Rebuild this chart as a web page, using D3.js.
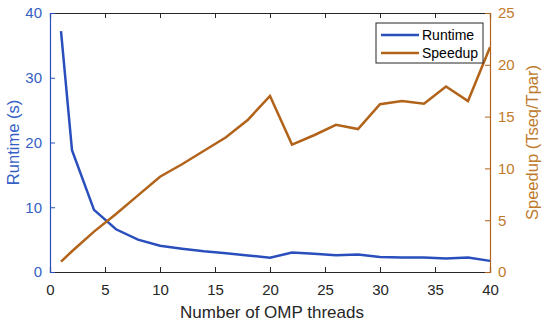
<!DOCTYPE html>
<html lang="en">
	<head>
		<meta charset="utf-8">
		<title>Runtime and speedup</title>
		<script type="text/javascript" src="https://cdn.jsdelivr.net/npm/d3@7"></script>
		<style type="text/css">
			body { margin: 0; background: #fff; }
			text { font-family: "Liberation Sans", Arial, sans-serif; }
		</style>
	</head>
	<body>
		<script type="text/javascript">

			var w = 550;
			var h = 328;
			var margin = { top: 13, right: 60, bottom: 56, left: 50 };

			// data
			var threads = [1, 2, 4, 6, 8, 10, 12, 14, 16, 18, 20, 22, 24, 26, 28, 30, 32, 34, 36, 38, 40];
			var runtime = [37.2, 18.8, 9.6, 6.6, 5.0, 4.05, 3.6, 3.2, 2.9, 2.55, 2.2, 3.0, 2.8, 2.6, 2.7, 2.3, 2.25, 2.25, 2.08, 2.25, 1.72];
			var speedup = [1.0, 2.0, 3.9, 5.6, 7.4, 9.2, 10.4, 11.7, 13.0, 14.7, 17.0, 12.3, 13.2, 14.2, 13.8, 16.2, 16.5, 16.25, 17.9, 16.5, 21.7];
			var xTicks = [0, 5, 10, 15, 20, 25, 30, 35, 40];
			var yLeftTicks = [0, 10, 20, 30, 40];
			var yRightTicks = [0, 5, 10, 15, 20, 25];

			var blue = "#2a4fbd";
			var blueText = "#3560c4";
			var orange = "#b2631a";
			var orangeText = "#bf7a2c";

			var svg = d3.select("body")
						.append("svg")
						.attr("width", w)
						.attr("height", h);

			var x = d3.scaleLinear().domain([0, 40]).range([margin.left, w - margin.right]);
			var yL = d3.scaleLinear().domain([0, 40]).range([h - margin.bottom, margin.top]);
			var yR = d3.scaleLinear().domain([0, 25]).range([h - margin.bottom, margin.top]);

			var tickLen = 5;

			// top axis (ticks only)
			svg.append("g")
				.attr("transform", "translate(0," + margin.top + ")")
				.call(d3.axisTop(x).tickValues(xTicks).tickSize(-tickLen).tickFormat(""))
				.call(function(g) {
					g.select(".domain").attr("stroke", "#262626").attr("stroke-width", 1.2);
					g.selectAll(".tick line").attr("stroke", "#262626");
				});

			// bottom axis
			svg.append("g")
				.attr("transform", "translate(0," + (h - margin.bottom) + ")")
				.call(d3.axisBottom(x).tickValues(xTicks).tickSize(-tickLen).tickPadding(12))
				.call(function(g) {
					g.select(".domain").attr("stroke", "#262626").attr("stroke-width", 1.2);
					g.selectAll(".tick line").attr("stroke", "#262626");
					g.selectAll("text").attr("fill", "#262626").style("font-size", "15px")
						.style("font-family", "'Liberation Sans', Arial, sans-serif");
				});

			// left axis
			svg.append("g")
				.attr("transform", "translate(" + margin.left + ",0)")
				.call(d3.axisLeft(yL).tickValues(yLeftTicks).tickSize(-tickLen).tickPadding(8))
				.call(function(g) {
					g.select(".domain").attr("stroke", blue).attr("stroke-width", 1.2);
					g.selectAll(".tick line").attr("stroke", blue);
					g.selectAll("text").attr("fill", blueText).style("font-size", "15px")
						.style("font-family", "'Liberation Sans', Arial, sans-serif");
				});

			// right axis
			svg.append("g")
				.attr("transform", "translate(" + (w - margin.right) + ",0)")
				.call(d3.axisRight(yR).tickValues(yRightTicks).tickSize(-tickLen).tickPadding(8))
				.call(function(g) {
					g.select(".domain").attr("stroke", orange).attr("stroke-width", 1.2);
					g.selectAll(".tick line").attr("stroke", orange);
					g.selectAll("text").attr("fill", orangeText).style("font-size", "15px")
						.style("font-family", "'Liberation Sans', Arial, sans-serif");
				});

			// lines
			var runtimeLine = d3.line()
				.x(function(d, i) { return x(threads[i]); })
				.y(function(d) { return yL(d); });

			var speedupLine = d3.line()
				.x(function(d, i) { return x(threads[i]); })
				.y(function(d) { return yR(d); });

			svg.append("path")
				.datum(runtime)
				.attr("d", runtimeLine)
				.attr("fill", "none")
				.attr("stroke", blue)
				.attr("stroke-width", 2.5);

			svg.append("path")
				.datum(speedup)
				.attr("d", speedupLine)
				.attr("fill", "none")
				.attr("stroke", orange)
				.attr("stroke-width", 2.5);

			// axis titles
			svg.append("text")
				.attr("x", (margin.left + w - margin.right) / 2 + 2)
				.attr("y", 318)
				.attr("text-anchor", "middle")
				.attr("fill", "#262626")
				.style("font-size", "17px")
				.text("Number of OMP threads");

			svg.append("text")
				.attr("transform", "translate(19," + ((margin.top + h - margin.bottom) / 2) + ") rotate(-90)")
				.attr("text-anchor", "middle")
				.attr("fill", blueText)
				.style("font-size", "16.5px")
				.text("Runtime (s)");

			svg.append("text")
				.attr("transform", "translate(538," + ((margin.top + h - margin.bottom) / 2) + ") rotate(-90)")
				.attr("text-anchor", "middle")
				.attr("fill", orangeText)
				.style("font-size", "16.5px")
				.text("Speedup (Tseq/Tpar)");

			// legend
			var legend = svg.append("g").attr("transform", "translate(376,23)");
			legend.append("rect")
				.attr("width", 107)
				.attr("height", 40)
				.attr("fill", "#fff")
				.attr("stroke", "#262626")
				.attr("stroke-width", 1);

			var entries = [["Runtime", blue], ["Speedup", orange]];
			var rows = legend.selectAll("g.entry")
				.data(entries)
				.enter()
				.append("g")
				.attr("transform", function(d, i) { return "translate(0," + (12 + i * 18) + ")"; });
			rows.append("line")
				.attr("x1", 5).attr("x2", 43)
				.attr("stroke", function(d) { return d[1]; })
				.attr("stroke-width", 2.5);
			rows.append("text")
				.attr("x", 46)
				.attr("dy", "0.35em")
				.attr("fill", "#000")
				.style("font-size", "14px")
				.text(function(d) { return d[0]; });

		</script>
	</body>
</html>
